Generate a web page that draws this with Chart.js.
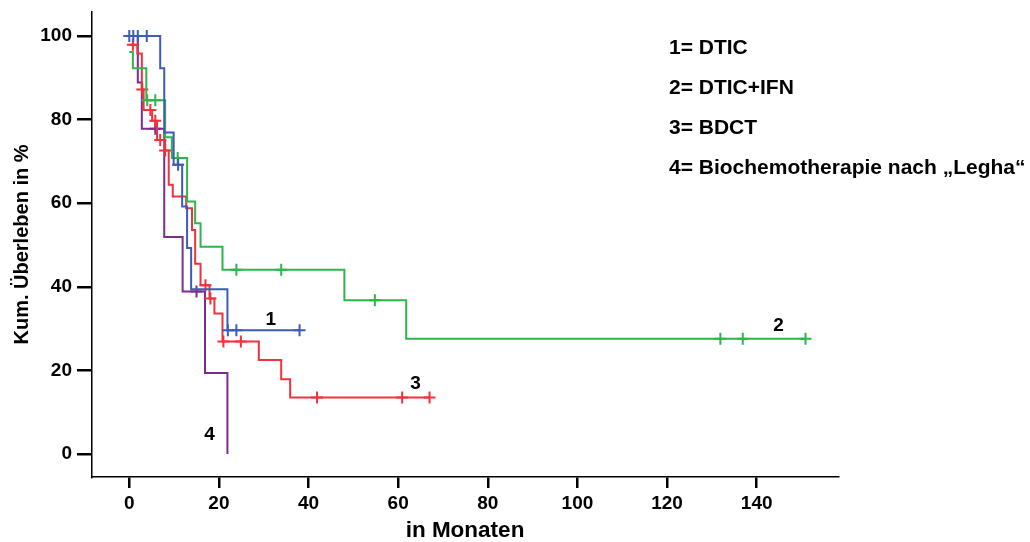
<!DOCTYPE html>
<html lang="de">
<head>
<meta charset="utf-8">
<title>Kum. Überleben</title>
<script src="https://cdn.jsdelivr.net/npm/chart.js@4"></script>
<style>
  html, body { margin: 0; padding: 0; background: #fff; }
  canvas { display: block; }
</style>
</head>
<body>
<canvas id="km" width="1030" height="542"></canvas>
<script>
// Kaplan-Meier-Kurven: Zeit in Monaten, kumulatives Überleben in %
const xTicks = [0, 20, 40, 60, 80, 100, 120, 140];
const yTicks = [0, 20, 40, 60, 80, 100];

// 1 = DTIC
const dticTimes  = [0, 6.9, 7.8, 9.9, 11.8, 12.9, 13.8, 21.9, 38];
const dticSurv   = [100, 92.3, 76.9, 69.2, 59.2, 49.3, 39.4, 29.6, 29.6];
const dticCensor = [0, 0.9, 1.9, 3.9, 10.9, 22.0, 23.9, 38.0];

// 2 = DTIC+IFN
const ifnTimes  = [0, 0.8, 3.8, 8.0, 9.5, 12.9, 14.7, 15.9, 20.8, 48.0, 61.8, 151];
const ifnSurv   = [96.2, 92.3, 84.6, 75.8, 70.8, 60.4, 55.2, 49.6, 44.1, 36.8, 27.6, 27.6];
const ifnCensor = [4.0, 5.8, 10.8, 23.9, 33.9, 54.8, 131.9, 136.9, 150.9];

// 3 = BDCT
const bdctTimes  = [0, 1.8, 2.8, 3.2, 5.1, 6.2, 8.0, 8.8, 9.7, 12.7, 14.0, 14.7, 15.9, 17.9, 19.0, 20.8, 28.9, 33.9, 35.9, 67];
const bdctSurv   = [97.9, 95.8, 87.2, 82.3, 79.7, 75.1, 72.6, 64.4, 61.6, 58.8, 53.6, 45.5, 40.4, 37.2, 33.6, 26.9, 22.5, 17.9, 13.5, 13.5];
const bdctCensor = [0.8, 2.9, 4.7, 5.8, 6.9, 8.0, 17.0, 18.1, 21.0, 24.9, 41.9, 60.9, 67.0];

// 4 = Biochemotherapie nach Legha
const leghaTimes  = [0, 1.9, 2.8, 7.8, 11.9, 16.9, 21.9];
const leghaSurv   = [100, 88.9, 77.8, 51.9, 38.9, 19.4, 0];
const leghaCensor = [5.8, 15.0];

const groupLabels = ['1', '2', '3', '4'];
const groupLabelPos = [[31.6, 32.2], [144.9, 30.6], [63.9, 16.7], [17.9, 4.5]];

const legendLines = [
  '1= DTIC',
  '2= DTIC+IFN',
  '3= BDCT',
  '4= Biochemotherapie nach \u201ELegha\u201C'
];

const colors = ['#3d5cb8', '#2fb54a', '#f0323c', '#7b2d8e'];
const FONT = "'Liberation Sans', Arial, Helvetica, sans-serif";

function curve(times, surv) {
  return times.map((t, i) => ({ x: t, y: surv[i] }));
}
// survival level of a step curve at time t (value of the last step at or before t)
function levelAt(times, surv, t) {
  let s = surv[0];
  for (let i = 0; i < times.length; i++) if (times[i] <= t) s = surv[i];
  return s;
}
function censorMarks(times, surv, cens) {
  return cens.map(t => ({ x: t, y: levelAt(times, surv, t) }));
}

const groups = [
  [dticTimes, dticSurv, dticCensor],
  [ifnTimes, ifnSurv, ifnCensor],
  [bdctTimes, bdctSurv, bdctCensor],
  [leghaTimes, leghaSurv, leghaCensor]
];

const datasets = [];
groups.forEach(([t, s, c], i) => {
  datasets.push({
    data: curve(t, s),
    stepped: 'before',
    borderColor: colors[i],
    borderWidth: 2,
    pointRadius: 0,
    fill: false,
    order: i
  });
  datasets.push({
    data: censorMarks(t, s, c),
    showLine: false,
    pointStyle: 'cross',
    pointRadius: 6,
    pointBorderWidth: 2,
    borderColor: colors[i],
    backgroundColor: colors[i],
    order: i
  });
});

const annotations = {
  id: 'annotations',
  afterDraw(chart) {
    const ctx = chart.ctx;
    const xs = chart.scales.x, ys = chart.scales.y;
    ctx.save();
    ctx.fillStyle = '#000';
    ctx.font = 'bold 19px ' + FONT;
    ctx.textAlign = 'center';
    ctx.textBaseline = 'middle';
    groupLabels.forEach((lab, i) => {
      const [tx, ty] = groupLabelPos[i];
      ctx.fillText(lab, xs.getPixelForValue(tx), ys.getPixelForValue(ty));
    });
    ctx.font = 'bold 21px ' + FONT;
    ctx.textAlign = 'left';
    ctx.textBaseline = 'alphabetic';
    legendLines.forEach((line, i) => {
      ctx.fillText(line, 669, 54 + i * 40);
    });
    ctx.restore();
  }
};

new Chart(document.getElementById('km'), {
  type: 'line',
  data: { datasets },
  options: {
    responsive: false,
    animation: false,
    devicePixelRatio: 1,
    layout: { padding: { left: 0, right: 192, top: 12, bottom: 0 } },
    plugins: { legend: { display: false }, tooltip: { enabled: false } },
    scales: {
      x: {
        type: 'linear',
        min: -8.32,
        max: 158.15,
        afterBuildTicks: s => { s.ticks = xTicks.map(v => ({ value: v })); },
        afterFit: s => { s.height = 65; s.paddingLeft = 0; s.paddingRight = 0; },
        ticks: {
          color: '#000',
          font: { family: FONT, size: 19, weight: 'bold' },
          padding: 4,
          maxRotation: 0,
          autoSkip: false
        },
        grid: { drawOnChartArea: false, drawTicks: true, tickLength: 11, color: '#000', lineWidth: 2.5 },
        border: { display: true, color: '#000', width: 1.5 },
        title: {
          display: true,
          text: 'in Monaten',
          color: '#000',
          font: { family: FONT, size: 22.5, weight: 'bold', lineHeight: 1 },
          padding: { top: 0, bottom: 0 }
        }
      },
      y: {
        type: 'linear',
        min: -5.5,
        max: 105.74,
        afterBuildTicks: s => { s.ticks = yTicks.map(v => ({ value: v })); },
        afterFit: s => { s.width = 92; s.paddingTop = 0; s.paddingBottom = 0; },
        ticks: {
          color: '#000',
          font: { family: FONT, size: 19, weight: 'bold' },
          padding: 5
        },
        grid: { drawOnChartArea: false, drawTicks: true, tickLength: 15, color: '#000', lineWidth: 2.5 },
        border: { display: true, color: '#000', width: 1.5 },
        title: {
          display: true,
          text: 'Kum. Überleben in %',
          color: '#000',
          font: { family: FONT, size: 20, weight: 'bold', lineHeight: 1.2 },
          padding: { top: 10, bottom: 0 }
        }
      }
    }
  },
  plugins: [annotations]
});
</script>
</body>
</html>
